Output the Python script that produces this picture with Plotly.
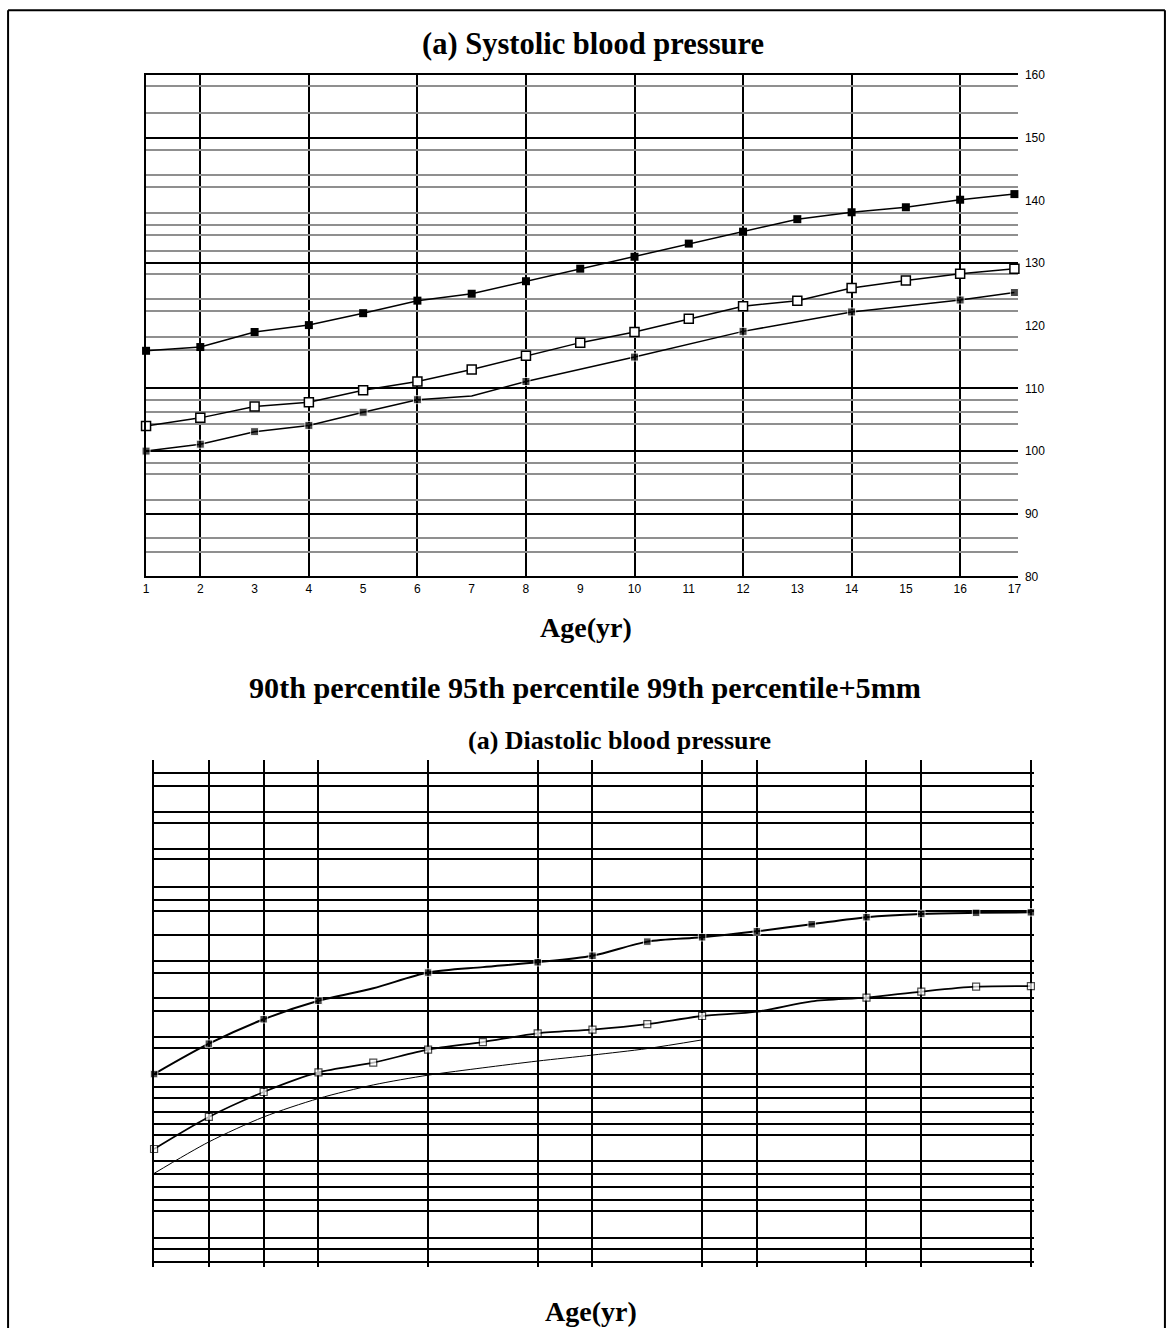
import plotly.graph_objects as go

W, H = 1171, 1335

# ---------------- data: systolic (top chart) ----------------
ages = list(range(1, 18))
sys_99p5 = [116.0, 116.6, 119.0, 120.1, 122.0, 124.0, 125.1, 127.1, 129.1, 131.0,
            133.1, 135.0, 137.0, 138.1, 138.9, 140.1, 141.0]
sys_95 = [104.0, 105.3, 107.1, 107.8, 109.7, 111.1, 113.0, 115.2, 117.3, 119.0,
          121.1, 123.1, 124.0, 126.0, 127.2, 128.3, 129.1]
sys_90_age = [1, 2, 3, 4, 5, 6, 7, 8, 10, 12, 14, 16, 17]
sys_90 = [100.0, 101.1, 103.1, 104.1, 106.2, 108.2, 108.8, 111.1, 115.0, 119.1,
          122.2, 124.1, 125.3]
sys_90_marked = [1, 1, 1, 1, 1, 1, 0, 1, 1, 1, 1, 1, 1]

sys_ylabels = [80, 90, 100, 110, 120, 130, 140, 150, 160]
sys_major_grid = [80, 90, 100, 110, 130, 150, 160]
sys_minor_grid = [83.9, 86.2, 92.2, 96.4, 98.1, 104.3, 106.2, 108.2, 116.2, 118.2,
                  122.3, 124.3, 128.3, 132.0, 134.4, 136.0, 138.0, 142.2, 144.1,
                  148.0, 154.0, 158.2]
sys_vgrid = [1, 2, 4, 6, 8, 10, 12, 14, 16]

# ---------------- data: diastolic (bottom chart, unlabeled scale) ----------------
dia_99p5 = [64.6, 70.2, 74.7, 78.1, 80.4, 83.3, 84.3, 85.2, 86.4, 89.0,
            89.8, 90.9, 92.2, 93.5, 94.1, 94.3, 94.4]
dia_99p5_marked = [1, 1, 1, 1, 0, 1, 0, 1, 1, 1, 1, 1, 1, 1, 1, 1, 1]
dia_95 = [50.8, 56.7, 61.3, 64.9, 66.7, 69.1, 70.5, 72.1, 72.8, 73.8,
          75.3, 76.1, 78.0, 78.7, 79.8, 80.7, 80.8]
dia_95_marked = [1, 1, 1, 1, 1, 1, 1, 1, 1, 1, 1, 0, 0, 1, 1, 1, 1]
dia_90_age = list(range(1, 12))
dia_90 = [46.3, 52.1, 56.7, 60.1, 62.6, 64.4, 65.75, 67.0, 68.1, 69.3, 70.9]

dia_vgrid = [1, 2, 3, 4, 6, 8, 9, 11, 12, 14, 15, 17]
dia_hgrid = [30.0, 32.3, 34.4, 39.4, 41.4, 43.8, 46.2, 48.6, 53.4, 55.4, 57.6, 60.2,
             62.3, 64.6, 69.4, 71.5, 76.3, 78.7, 83.3, 85.4, 90.2, 94.6, 96.7, 99.1,
             104.2, 106.0, 110.8, 112.9, 117.7, 120.0]

# ---------------- layout helpers (target pixel -> paper) ----------------
CX, CY = W / 2, H / 2
SX, SY = 0.995, 0.989   # compensation for the slight shrink seen in the photographed page


def px_x(p):
    return (CX + (p - CX) / SX) / W


def px_y(p):
    return 1 - (CY + (p - CY) / SY) / H


# ---------------- figure ----------------
fig = go.Figure()

# top chart
fig.add_trace(go.Scatter(
    x=ages, y=sys_99p5, mode="lines+markers", name="99th percentile+5mm",
    line=dict(color="black", width=1.5),
    marker=dict(symbol="square", size=8, color="black"),
    xaxis="x", yaxis="y", showlegend=False, cliponaxis=False))
fig.add_trace(go.Scatter(
    x=sys_90_age, y=sys_90, mode="lines+markers", name="90th percentile",
    line=dict(color="black", width=1.5),
    marker=dict(symbol="square", size=[8 * m for m in sys_90_marked], color="black"),
    xaxis="x", yaxis="y", showlegend=False, cliponaxis=False))
fig.add_trace(go.Scatter(
    x=ages, y=sys_95, mode="lines+markers", name="95th percentile",
    line=dict(color="black", width=1.5),
    marker=dict(symbol="square", size=9, color="white",
                line=dict(color="black", width=1.5)),
    xaxis="x", yaxis="y", showlegend=False, cliponaxis=False))
# invisible carrier for the label axis
fig.add_trace(go.Scatter(x=[ages[0]], y=[sys_ylabels[0]], mode="markers",
                         marker=dict(opacity=0), hoverinfo="skip",
                         xaxis="x", yaxis="y3", showlegend=False))

# bottom chart
fig.add_trace(go.Scatter(
    x=dia_90_age, y=dia_90, mode="lines", name="90th percentile",
    line=dict(color="black", width=1, shape="spline", smoothing=0.8),
    xaxis="x2", yaxis="y2", showlegend=False, cliponaxis=False))
fig.add_trace(go.Scatter(
    x=ages, y=dia_95, mode="lines+markers", name="95th percentile",
    line=dict(color="black", width=1.8, shape="spline", smoothing=0.8),
    marker=dict(symbol="square", size=[7 * m for m in dia_95_marked], color="white",
                line=dict(color="black", width=1.2)),
    xaxis="x2", yaxis="y2", showlegend=False, cliponaxis=False))
fig.add_trace(go.Scatter(
    x=ages, y=dia_99p5, mode="lines+markers", name="99th percentile+5mm",
    line=dict(color="black", width=2, shape="spline", smoothing=0.8),
    marker=dict(symbol="square", size=[7.5 * m for m in dia_99p5_marked], color="black"),
    xaxis="x2", yaxis="y2", showlegend=False, cliponaxis=False))

tick_font = dict(family="Liberation Sans, Arial, sans-serif", size=12, color="black")

fig.update_layout(
    width=W, height=H, autosize=False,
    margin=dict(l=0, r=0, t=0, b=0),
    paper_bgcolor="white", plot_bgcolor="white",
    xaxis=dict(domain=[px_x(146), px_x(1018)], range=[1, 17.065], anchor="y",
               tickmode="array", tickvals=ages, ticktext=[str(a) for a in ages],
               showgrid=False, zeroline=False, ticks="",
               showline=True, mirror=True, linecolor="black", linewidth=1.5,
               tickfont=tick_font,
               minor=dict(tickmode="array", tickvals=sys_vgrid, showgrid=True,
                          gridcolor="black", gridwidth=1.5, ticks="")),
    yaxis=dict(domain=[px_y(576.5), px_y(75.3)], range=[80, 160], anchor="x",
               tickmode="array", tickvals=sys_major_grid, showticklabels=False,
               showgrid=True, gridcolor="black", gridwidth=1.5,
               zeroline=False, ticks="",
               showline=True, linecolor="black", linewidth=1.5,
               minor=dict(tickmode="array", tickvals=sys_minor_grid, showgrid=True,
                          gridcolor="#8f8f8f", gridwidth=1.5, ticks="")),
    yaxis3=dict(overlaying="y", anchor="x", side="right", range=[80, 160],
                tickmode="array", tickvals=sys_ylabels,
                ticktext=[str(v) for v in sys_ylabels],
                showgrid=False, zeroline=False, showline=False, ticks="",
                ticklabelstandoff=6, tickfont=tick_font),
    xaxis2=dict(domain=[px_x(154), px_x(1033.7)], range=[1, 17.05], anchor="y2",
                tickmode="array", tickvals=dia_vgrid, showticklabels=False,
                showgrid=True, gridcolor="black", gridwidth=1.5,
                zeroline=False, showline=False, ticks=""),
    yaxis2=dict(domain=[px_y(1267), px_y(760)], range=[29.0, 122.45], anchor="x2",
                tickmode="array", tickvals=dia_hgrid, showticklabels=False,
                showgrid=True, gridcolor="black", gridwidth=1.5,
                zeroline=False, ticks="",
                showline=True, linecolor="black", linewidth=1.5),
)

serif = "Liberation Serif, Times New Roman, serif"
texts = [
    ("(a) Systolic blood pressure", 593, 44, 30.5),
    ("Age(yr)", 586, 628, 28),
    ("90th percentile 95th percentile 99th percentile+5mm", 585, 688, 30.2),
    ("(a) Diastolic blood pressure", 620, 740, 26),
    ("Age(yr)", 591, 1311, 28),
]
for t, cx, cy, fs in texts:
    fig.add_annotation(text="<b>" + t + "</b>", xref="paper", yref="paper",
                       x=px_x(cx), y=px_y(cy), xanchor="center", yanchor="middle",
                       showarrow=False, font=dict(family=serif, size=fs, color="black"))

# outer frame (left, top, right edges; open at the bottom)
frame_line = dict(color="black", width=2)
fig.add_shape(type="line", xref="paper", yref="paper",
              x0=px_x(8), x1=px_x(8), y0=0, y1=px_y(10.5), line=frame_line)
fig.add_shape(type="line", xref="paper", yref="paper",
              x0=px_x(8), x1=px_x(1165), y0=px_y(10.5), y1=px_y(10.5), line=frame_line)
fig.add_shape(type="line", xref="paper", yref="paper",
              x0=px_x(1165), x1=px_x(1165), y0=0, y1=px_y(10.5), line=frame_line)

fig.write_html("out.html", config={"displayModeBar": False},
               post_script="document.body.style.margin='0';")
